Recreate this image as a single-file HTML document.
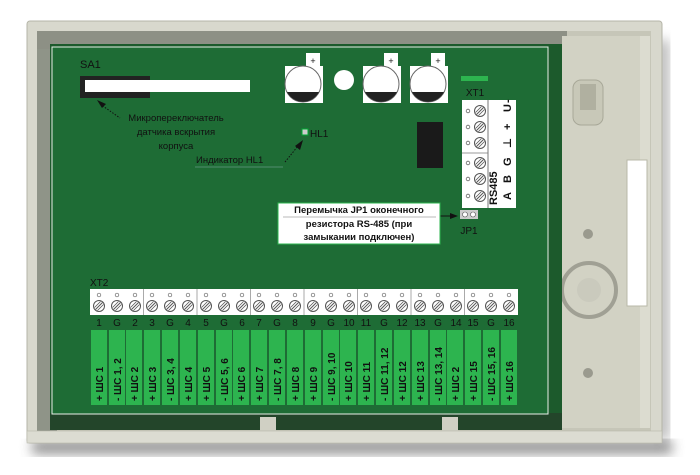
<!DOCTYPE html>
<html><head><meta charset="utf-8"><style>
html,body{margin:0;padding:0;background:#fff;width:700px;height:475px;overflow:hidden}
svg{display:block}
text{font-family:"Liberation Sans","DejaVu Sans",sans-serif}
</style></head><body>
<svg width="700" height="475" viewBox="0 0 700 475" xmlns="http://www.w3.org/2000/svg">
<defs>
<filter id="sh" x="-10%" y="-10%" width="120%" height="130%"><feGaussianBlur stdDeviation="6"/></filter>
<g id="scr"><circle r="5.5" fill="#fff" stroke="#555" stroke-width="1"/><line x1="-3.5" y1="3.5" x2="3.5" y2="-3.5" stroke="#555" stroke-width="1"/><line x1="-4.5" y1="1.5" x2="1.5" y2="-4.5" stroke="#555" stroke-width="0.8"/><line x1="-1.5" y1="4.5" x2="4.5" y2="-1.5" stroke="#555" stroke-width="0.8"/></g>
</defs>
<rect x="32" y="440" width="640" height="14" fill="#777" filter="url(#sh)" opacity="0.8"/>
<rect x="655" y="40" width="14" height="400" fill="#888" filter="url(#sh)" opacity="0.6"/>
<!-- enclosure -->
<rect x="27" y="21" width="635" height="422" rx="3" fill="#d8d8cd" stroke="#b5b5a8"/>
<rect x="37" y="31" width="614" height="400" fill="#c6c6b8"/>
<rect x="37" y="31" width="20" height="400" fill="#8f9488"/>
<rect x="37" y="31" width="530" height="18" fill="#8d9085"/>
<rect x="562" y="36" width="85" height="392" fill="#d2d2c4"/>
<rect x="640" y="36" width="10" height="392" fill="#dcdcd0"/>
<!-- right details -->
<rect x="573" y="80" width="30" height="45" rx="8" fill="#c8c8b8" stroke="#a8a898"/>
<rect x="580" y="84" width="16" height="26" fill="#b0b0a0"/>
<rect x="627" y="160" width="20" height="146" fill="#fff" stroke="#b8b8a8"/>
<circle cx="589" cy="290" r="27" fill="none" stroke="#a0a094" stroke-width="4"/>
<circle cx="589" cy="290" r="12" fill="#cacabd"/>
<circle cx="588" cy="234" r="5" fill="#9a9a8e"/>
<circle cx="588" cy="373" r="5" fill="#9a9a8e"/>
<!-- physical board -->
<rect x="50" y="44" width="512" height="386" fill="#1c5a2c"/>
<rect x="50" y="413" width="512" height="17" fill="#23452a"/>
<!-- PCB overlay -->
<rect x="52" y="47" width="496" height="367" fill="#1e6c35" stroke="#e8eee8" stroke-width="1"/>
<!-- SA1 -->
<text x="80" y="68" font-size="11" fill="#111">SA1</text>
<rect x="80" y="76" width="70" height="22" fill="#222"/>
<rect x="85" y="80" width="165" height="12" fill="#fff"/>
<line x1="100" y1="104" x2="120" y2="118" stroke="#111" stroke-dasharray="1.5,1.5"/>
<polygon points="97,100 106,104 102,108" fill="#111"/>
<text x="176" y="121" font-size="9.5" fill="#111" text-anchor="middle">Микропереключатель</text>
<text x="176" y="135" font-size="9.5" fill="#111" text-anchor="middle">датчика вскрытия</text>
<text x="176" y="149" font-size="9.5" fill="#111" text-anchor="middle">корпуса</text>
<!-- HL1 -->
<rect x="302" y="129" width="6" height="6" fill="#ccc" stroke="#0a3"/>
<text x="310" y="137" font-size="10" fill="#111">HL1</text>
<line x1="285" y1="162" x2="298" y2="146" stroke="#111" stroke-dasharray="1.5,1.5"/>
<polygon points="303,140 300,150 295,146" fill="#111"/>
<text x="196" y="163" font-size="9.5" fill="#111">Индикатор HL1</text>
<line x1="195" y1="167" x2="283" y2="167" stroke="#8aa" stroke-width="0.6"/>
<!-- caps -->
<g>
<rect x="306" y="53" width="14" height="14" fill="#fff"/><text x="313" y="64" font-size="9" text-anchor="middle" fill="#111">+</text>
<rect x="285" y="66" width="38" height="37" fill="#fff"/>
<circle cx="303" cy="84" r="18" fill="#fff" stroke="#666"/>
<path d="M287,92 A18,18 0 0 0 319,92 Z" fill="#222"/>
</g>
<circle cx="344" cy="80" r="10" fill="#fff"/>
<g transform="translate(78,0)">
<rect x="306" y="53" width="14" height="14" fill="#fff"/><text x="313" y="64" font-size="9" text-anchor="middle" fill="#111">+</text>
<rect x="285" y="66" width="38" height="37" fill="#fff"/>
<circle cx="303" cy="84" r="18" fill="#fff" stroke="#666"/>
<path d="M287,92 A18,18 0 0 0 319,92 Z" fill="#222"/>
</g>
<g transform="translate(125,0)">
<rect x="306" y="53" width="14" height="14" fill="#fff"/><text x="313" y="64" font-size="9" text-anchor="middle" fill="#111">+</text>
<rect x="285" y="66" width="38" height="37" fill="#fff"/>
<circle cx="303" cy="84" r="18" fill="#fff" stroke="#666"/>
<path d="M287,92 A18,18 0 0 0 319,92 Z" fill="#222"/>
</g>
<!-- XT1 -->
<rect x="461" y="76" width="27" height="5" fill="#2db44f"/>
<text x="475" y="96" font-size="10" fill="#111" text-anchor="middle">XT1</text>
<rect x="462" y="100" width="26" height="108" fill="#fff"/>
<line x1="462" y1="153" x2="488" y2="153" stroke="#999"/>
<rect x="488" y="100" width="28" height="108" fill="#fff"/>
<line x1="488" y1="100" x2="488" y2="208" stroke="#777"/>
<g fill="none" stroke="#666" stroke-width="0.8">
<circle cx="468" cy="111" r="1.8"/><circle cx="468" cy="127" r="1.8"/><circle cx="468" cy="143" r="1.8"/><circle cx="468" cy="163" r="1.8"/><circle cx="468" cy="179" r="1.8"/><circle cx="468" cy="196" r="1.8"/>
</g>
<use href="#scr" x="480" y="111"/><use href="#scr" x="480" y="127"/><use href="#scr" x="480" y="143"/><use href="#scr" x="480" y="163"/><use href="#scr" x="480" y="179"/><use href="#scr" x="480" y="196"/>
<g font-size="11" font-weight="bold" fill="#111">
<text transform="translate(497,205) rotate(-90)">RS485</text>
<text transform="translate(511,200) rotate(-90)">A</text>
<text transform="translate(511,183) rotate(-90)">B</text>
<text transform="translate(511,166) rotate(-90)">G</text>
<text transform="translate(511,148) rotate(-90)">⊥</text>
<text transform="translate(511,130) rotate(-90)">+</text>
<text transform="translate(511,112) rotate(-90)">U</text>
<text transform="translate(511,103) rotate(-90)">-</text>
</g>
<!-- chip -->
<rect x="417" y="122" width="26" height="46" fill="#1a1a1a"/>
<!-- JP1 -->
<rect x="460" y="210" width="18" height="9" fill="#ccc"/>
<circle cx="465" cy="214.5" r="2.5" fill="#fff" stroke="#555" stroke-width="0.6"/><circle cx="473" cy="214.5" r="2.5" fill="#fff" stroke="#555" stroke-width="0.6"/>
<text x="469" y="234" font-size="10" fill="#111" text-anchor="middle">JP1</text>
<line x1="440" y1="216" x2="452" y2="216" stroke="#111"/>
<polygon points="458,216 450,213 450,219" fill="#111"/>
<rect x="278" y="203" width="162" height="41" fill="#fff" stroke="#2db44f"/>
<line x1="283" y1="217" x2="436" y2="217" stroke="#777" stroke-width="0.6"/>
<g font-size="9.5" font-weight="bold" fill="#111" text-anchor="middle">
<text x="359" y="213">Перемычка JP1 оконечного</text>
<text x="359" y="227">резистора RS-485 (при</text>
<text x="359" y="240">замыкании подключен)</text>
</g>
<!-- XT2 -->
<text x="90" y="286" font-size="10" fill="#111">XT2</text>
<rect x="90" y="289" width="428" height="26" fill="#fff"/>
<g id="cols"></g>
<g stroke="#aaa" stroke-width="1">
<line x1="143.5" y1="289" x2="143.5" y2="315"/><line x1="197" y1="289" x2="197" y2="315"/><line x1="250.5" y1="289" x2="250.5" y2="315"/><line x1="304" y1="289" x2="304" y2="315"/><line x1="357.5" y1="289" x2="357.5" y2="315"/><line x1="411" y1="289" x2="411" y2="315"/><line x1="464.5" y1="289" x2="464.5" y2="315"/>
</g>
<g fill="none" stroke="#666" stroke-width="0.7">
<circle cx="99" cy="295" r="1.8"/><circle cx="117" cy="295" r="1.8"/><circle cx="135" cy="295" r="1.8"/><circle cx="152" cy="295" r="1.8"/><circle cx="170" cy="295" r="1.8"/><circle cx="188" cy="295" r="1.8"/><circle cx="206" cy="295" r="1.8"/><circle cx="224" cy="295" r="1.8"/><circle cx="242" cy="295" r="1.8"/><circle cx="259" cy="295" r="1.8"/><circle cx="277" cy="295" r="1.8"/><circle cx="295" cy="295" r="1.8"/><circle cx="313" cy="295" r="1.8"/><circle cx="331" cy="295" r="1.8"/><circle cx="349" cy="295" r="1.8"/><circle cx="366" cy="295" r="1.8"/><circle cx="384" cy="295" r="1.8"/><circle cx="402" cy="295" r="1.8"/><circle cx="420" cy="295" r="1.8"/><circle cx="438" cy="295" r="1.8"/><circle cx="456" cy="295" r="1.8"/><circle cx="473" cy="295" r="1.8"/><circle cx="491" cy="295" r="1.8"/><circle cx="509" cy="295" r="1.8"/>
</g>
<use href="#scr" x="99" y="306"/><use href="#scr" x="117" y="306"/><use href="#scr" x="135" y="306"/><use href="#scr" x="152" y="306"/><use href="#scr" x="170" y="306"/><use href="#scr" x="188" y="306"/><use href="#scr" x="206" y="306"/><use href="#scr" x="224" y="306"/><use href="#scr" x="242" y="306"/><use href="#scr" x="259" y="306"/><use href="#scr" x="277" y="306"/><use href="#scr" x="295" y="306"/><use href="#scr" x="313" y="306"/><use href="#scr" x="331" y="306"/><use href="#scr" x="349" y="306"/><use href="#scr" x="366" y="306"/><use href="#scr" x="384" y="306"/><use href="#scr" x="402" y="306"/><use href="#scr" x="420" y="306"/><use href="#scr" x="438" y="306"/><use href="#scr" x="456" y="306"/><use href="#scr" x="473" y="306"/><use href="#scr" x="491" y="306"/><use href="#scr" x="509" y="306"/>
<g font-size="10" fill="#111" text-anchor="middle">
<text x="99" y="326">1</text><text x="117" y="326">G</text><text x="135" y="326">2</text><text x="152" y="326">3</text><text x="170" y="326">G</text><text x="188" y="326">4</text><text x="206" y="326">5</text><text x="224" y="326">G</text><text x="242" y="326">6</text><text x="259" y="326">7</text><text x="277" y="326">G</text><text x="295" y="326">8</text><text x="313" y="326">9</text><text x="331" y="326">G</text><text x="349" y="326">10</text><text x="366" y="326">11</text><text x="384" y="326">G</text><text x="402" y="326">12</text><text x="420" y="326">13</text><text x="438" y="326">G</text><text x="456" y="326">14</text><text x="473" y="326">15</text><text x="491" y="326">G</text><text x="509" y="326">16</text>
</g>
<g fill="#2db44f">
<rect x="91" y="330" width="16" height="75"/><rect x="109" y="330" width="16" height="75"/><rect x="126" y="330" width="16" height="75"/><rect x="144" y="330" width="16" height="75"/><rect x="162" y="330" width="16" height="75"/><rect x="180" y="330" width="16" height="75"/><rect x="198" y="330" width="16" height="75"/><rect x="216" y="330" width="16" height="75"/><rect x="233" y="330" width="16" height="75"/><rect x="251" y="330" width="16" height="75"/><rect x="269" y="330" width="16" height="75"/><rect x="287" y="330" width="16" height="75"/><rect x="305" y="330" width="16" height="75"/><rect x="323" y="330" width="16" height="75"/><rect x="340" y="330" width="16" height="75"/><rect x="358" y="330" width="16" height="75"/><rect x="376" y="330" width="16" height="75"/><rect x="394" y="330" width="16" height="75"/><rect x="412" y="330" width="16" height="75"/><rect x="430" y="330" width="16" height="75"/><rect x="447" y="330" width="16" height="75"/><rect x="465" y="330" width="16" height="75"/><rect x="483" y="330" width="16" height="75"/><rect x="501" y="330" width="16" height="75"/>
</g>
<g font-size="10" font-weight="bold" fill="#111">
<text transform="translate(103,401) rotate(-90)">+ ШС 1</text>
<text transform="translate(121,401) rotate(-90)">- ШС 1, 2</text>
<text transform="translate(138,401) rotate(-90)">+ ШС 2</text>
<text transform="translate(156,401) rotate(-90)">+ ШС 3</text>
<text transform="translate(174,401) rotate(-90)">- ШС 3, 4</text>
<text transform="translate(192,401) rotate(-90)">+ ШС 4</text>
<text transform="translate(210,401) rotate(-90)">+ ШС 5</text>
<text transform="translate(228,401) rotate(-90)">- ШС 5, 6</text>
<text transform="translate(245,401) rotate(-90)">+ ШС 6</text>
<text transform="translate(263,401) rotate(-90)">+ ШС 7</text>
<text transform="translate(281,401) rotate(-90)">- ШС 7, 8</text>
<text transform="translate(299,401) rotate(-90)">+ ШС 8</text>
<text transform="translate(317,401) rotate(-90)">+ ШС 9</text>
<text transform="translate(335,401) rotate(-90)">- ШС 9, 10</text>
<text transform="translate(352,401) rotate(-90)">+ ШС 10</text>
<text transform="translate(370,401) rotate(-90)">+ ШС 11</text>
<text transform="translate(388,401) rotate(-90)">- ШС 11, 12</text>
<text transform="translate(406,401) rotate(-90)">+ ШС 12</text>
<text transform="translate(424,401) rotate(-90)">+ ШС 13</text>
<text transform="translate(442,401) rotate(-90)">- ШС 13, 14</text>
<text transform="translate(459,401) rotate(-90)">+ ШС 2</text>
<text transform="translate(477,401) rotate(-90)">+ ШС 15</text>
<text transform="translate(495,401) rotate(-90)">- ШС 15, 16</text>
<text transform="translate(513,401) rotate(-90)">+ ШС 16</text>
</g>
<!-- bottom clips -->
<rect x="260" y="417" width="16" height="14" fill="#d0d0c4"/>
<rect x="442" y="417" width="16" height="14" fill="#d0d0c4"/>
<rect x="27" y="431" width="635" height="12" fill="#dcdcd2" stroke="#b8b8ab" stroke-width="0.6"/>
</svg>
</body></html>
